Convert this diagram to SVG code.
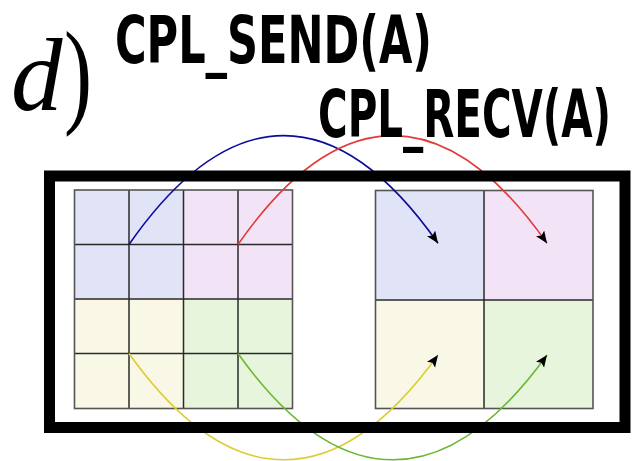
<svg xmlns="http://www.w3.org/2000/svg" width="641" height="461" viewBox="0 0 641 461">
  <style>
    .cell { stroke: #2a2a2a; stroke-width: 1.5; }
    .edge { fill: none; stroke: #555; stroke-width: 1.6; }
    .blue { fill: #e1e3f7; }
    .purple { fill: #f3e3f7; }
    .yellow { fill: #f9f8e7; }
    .green { fill: #e6f5dc; }
    .arc { fill: none; stroke-width: 1.6; marker-end: url(#tip); }
    .label { font-family: "Liberation Sans Narrow", "DejaVu Sans Condensed", "Liberation Sans", sans-serif; font-weight: bold; font-size: 66px; fill: #000; }
    .math { font-family: "Liberation Serif", "DejaVu Serif", serif; fill: #000; }
  </style>
  <defs>
    <marker id="tip" markerUnits="userSpaceOnUse" markerWidth="14" markerHeight="11" refX="12" refY="5" orient="auto">
      <path d="M0,0 L12,5 L0,10 L2.5,5 z" fill="#000"/>
    </marker>
  </defs>

  <rect width="641" height="461" fill="#fff"/>

  <!-- source array: 4x4 blocks -->
  <g id="source">
    <rect class="blue" x="74.5" y="190" width="109" height="109"/>
    <rect class="purple" x="183.5" y="190" width="109" height="109"/>
    <rect class="yellow" x="74.5" y="299" width="109" height="109.5"/>
    <rect class="green" x="183.5" y="299" width="109" height="109.5"/>
    <path class="cell" d="M129,190V408.5 M183.5,190V408.5 M238,190V408.5 M74.5,244.5H292.5 M74.5,299H292.5 M74.5,353.5H292.5"/>
    <rect class="edge" x="74.5" y="190" width="218" height="218.5"/>
  </g>

  <!-- destination array: 2x2 blocks -->
  <g id="target">
    <rect class="blue" x="375.5" y="190.5" width="108.5" height="109.5"/>
    <rect class="purple" x="484" y="190.5" width="109" height="109.5"/>
    <rect class="yellow" x="375.5" y="300" width="108.5" height="108.5"/>
    <rect class="green" x="484" y="300" width="109" height="108.5"/>
    <path class="cell" d="M484,190.5V408.5 M375.5,300H593"/>
    <rect class="edge" x="375.5" y="190.5" width="217.5" height="218"/>
  </g>

  <!-- coupling transfers -->
  <g id="connectors">
    <path class="arc" stroke="#0c0c9a" d="M129,244.5 C230,99.5 337,99.5 438,243.3"/>
    <path class="arc" stroke="#e23a3a" d="M238,244.5 C339,99.5 446,99.5 547,243.3"/>
    <path class="arc" stroke="#dccd32" d="M129,353.5 C230,495 337,495 438,355"/>
    <path class="arc" stroke="#6cb833" d="M238,353.5 C339,495 446,495 547,355"/>
  </g>

  <!-- enclosing frame -->
  <g id="frame">
    <rect x="49.5" y="176" width="575.5" height="251.5" fill="none" stroke="#000" stroke-width="11"/>
  </g>

  <g id="titles">
    <text class="math" x="11" y="110" font-size="103" font-style="italic">d</text>
    <text class="math" x="64" y="112" font-size="117" transform="translate(64 0) scale(0.72 1) translate(-64 0)">)</text>
    <text class="label" x="115" y="63" textLength="317" lengthAdjust="spacingAndGlyphs">CPL_SEND(A)</text>
    <text class="label" x="318" y="137" textLength="293" lengthAdjust="spacingAndGlyphs">CPL_RECV(A)</text>
  </g>
</svg>
